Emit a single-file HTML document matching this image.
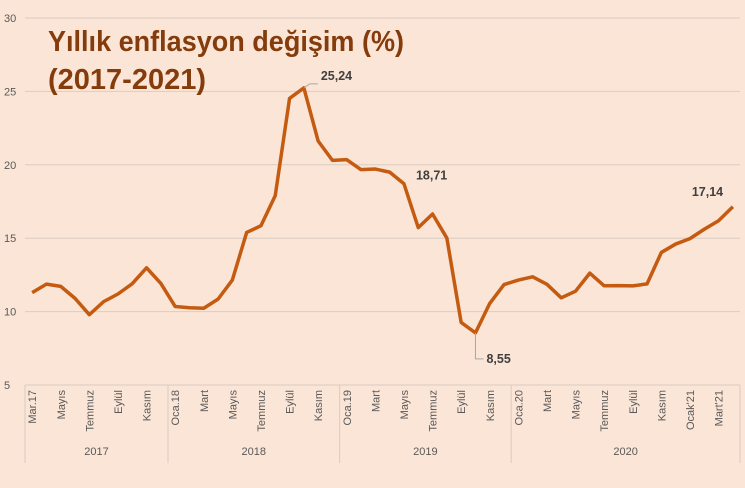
<!DOCTYPE html>
<html><head><meta charset="utf-8"><style>
html,body{margin:0;padding:0;background:#FBE5D6;}
svg{display:block;font-family:"Liberation Sans",sans-serif;}
</style></head><body>
<svg id="c" width="745" height="488">
<rect x="0" y="0" width="745" height="488" fill="#FBE5D6"/>
<g id="grid"></g><g id="xaxis"></g>
<text x="48" y="51" font-family="Liberation Sans, sans-serif" font-weight="bold" font-size="29" fill="#843C0C" textLength="356" lengthAdjust="spacingAndGlyphs">Yıllık enflasyon değişim (%)</text>
<text x="48" y="89" font-family="Liberation Sans, sans-serif" font-weight="bold" font-size="29" fill="#843C0C" textLength="158" lengthAdjust="spacingAndGlyphs">(2017-2021)</text>
<g id="series"></g><g id="labels"></g>
</svg>
<script>
const categories = ["Mar.17","Nis","Mayıs","Haz","Temmuz","Ağu","Eylül","Eki","Kasım","Ara",
"Oca.18","Şub","Mart","Nis","Mayıs","Haz","Temmuz","Ağu","Eylül","Eki","Kasım","Ara",
"Oca.19","Şub","Mart","Nis","Mayıs","Haz","Temmuz","Ağu","Eylül","Eki","Kasım","Ara",
"Oca.20","Şub","Mart","Nis","Mayıs","Haz","Temmuz","Ağu","Eylül","Eki","Kasım","Ara",
"Ocak'21","Şub","Mart'21","Nis"];
const values = [11.29,11.87,11.72,10.90,9.79,10.68,11.20,11.90,12.98,11.92,
10.35,10.26,10.23,10.85,12.15,15.39,15.85,17.90,24.52,25.24,21.62,20.30,
20.35,19.67,19.71,19.50,18.71,15.72,16.65,15.01,9.26,8.55,10.56,11.84,
12.15,12.37,11.86,10.94,11.39,12.62,11.76,11.77,11.75,11.89,14.03,14.60,
14.97,15.61,16.19,17.14];
const years = ["2017","2018","2019","2020"];
const yearCounts = [10,12,12,16];
const yTicks = [5,10,15,20,25,30];
const labelIdx = [19,26,31,49];

const NS="http://www.w3.org/2000/svg";
const X0=25, STEP=14.3, Y5=385, Y30=18;
function x(i){return X0+STEP*(i+0.5);}
function y(v){return Y5-(v-5)*(Y5-Y30)/25;}
function mk(t,a,p){const e=document.createElementNS(NS,t);for(const k in a)e.setAttribute(k,a[k]);p.appendChild(e);return e;}
const grid=document.getElementById('grid'),xa=document.getElementById('xaxis'),se=document.getElementById('series'),lb=document.getElementById('labels');
const XR=X0+STEP*categories.length;
yTicks.forEach(v=>{
  if(v>5){const l=mk('line',{x1:X0,x2:XR,y1:y(v),y2:y(v),stroke:'#D9CCC2','stroke-width':1},grid);
  
  }
  const t=mk('text',{x:4,y:y(v)+4,'font-size':11,fill:'#595959'},grid);
  t.textContent=v;
  
  
});
const ax=mk('line',{x1:X0,x2:XR,y1:Y5,y2:Y5,stroke:'#D9CCC2'},xa);


categories.forEach((c,i)=>{
  if(i%2!==0)return;
  const t=mk('text',{transform:`translate(${x(i)+4},390) rotate(-90)`,'text-anchor':'end','font-size':11,fill:'#595959'},xa);
  t.textContent=c;
  
  
});
let start=0;
years.forEach((yr,k)=>{
  const a=X0+STEP*start,b=X0+STEP*(start+yearCounts[k]);
  const s=mk('line',{x1:a,x2:a,y1:Y5,y2:463,stroke:'#D9CCC2'},xa);
  
  
  const t=mk('text',{x:(a+b)/2,y:455,'text-anchor':'middle','font-size':11,fill:'#595959'},xa);
  t.textContent=yr;
  
  
  start+=yearCounts[k];
});
const e=mk('line',{x1:XR,x2:XR,y1:Y5,y2:463,stroke:'#D9CCC2'},xa);


const line=mk('polyline',{points:values.map((v,i)=>x(i)+','+y(v)).join(' '),fill:'none',stroke:'#C55A11','stroke-width':3.5,'stroke-linejoin':'round'},se);


const offs=[[17,-8,true],[12,-4,false],[11,30,true],[-41,-11,false]];
labelIdx.forEach((i,k)=>{
  const px=x(i),py=y(values[i]),o=offs[k];
  if(o[2]){
    const ly=py+o[1]-(o[1]<0?-4:4);
    const l=mk('polyline',{points:`${px},${py} ${k==0?px+6:px},${ly} ${px+o[0]-3},${ly}`,fill:'none',stroke:'#A6A6A6','stroke-width':1},lb);
    
    
  }
  const t=mk('text',{x:px+o[0],y:py+o[1],'font-size':12.5,'font-weight':'bold',fill:'#404040'},lb);
  t.textContent=values[i].toFixed(2).replace('.',',');
  
  
});
</script>
</body></html>
